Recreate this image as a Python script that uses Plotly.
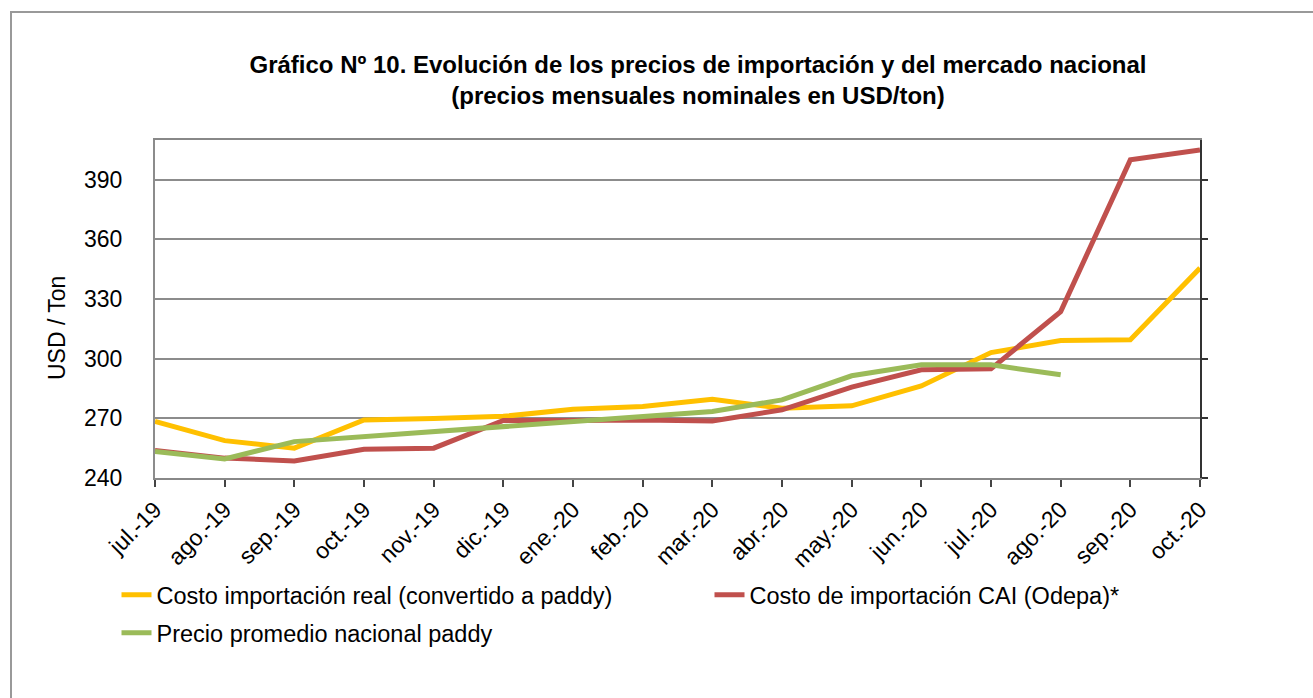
import plotly.graph_objects as go

months = ["jul.-19", "ago.-19", "sep.-19", "oct.-19", "nov.-19", "dic.-19",
          "ene.-20", "feb.-20", "mar.-20", "abr.-20", "may.-20", "jun.-20",
          "jul.-20", "ago.-20", "sep.-20", "oct.-20"]

costo_real = [268.5, 258.8, 255.0, 269.2, 269.9, 271.0, 274.6, 276.0, 279.6,
              275.1, 276.3, 286.3, 303.1, 309.1, 309.5, 345.6]
costo_cai = [253.8, 250.0, 248.6, 254.5, 255.0, 268.9, 268.9, 269.2, 268.7,
             274.3, 285.7, 294.4, 294.9, 323.7, 400.0, 405.0]
precio_nacional = [253.3, 249.6, 258.3, 260.8, 263.3, 265.9, 267.9, 270.4, 273.4,
                   279.3, 291.4, 296.9, 296.9, 291.9, None, None]

names = ["Costo importación real (convertido a paddy)",
         "Costo de importación CAI (Odepa)*",
         "Precio promedio nacional paddy"]
colors = ["#FFC000", "#C0504D", "#9BBB59"]
legend_ids = ["legend", "legend2", "legend3"]

x = list(range(len(months)))
FONT = "Liberation Sans, Arial, sans-serif"

fig = go.Figure()
for name, vals, col, lg in zip(names, [costo_real, costo_cai, precio_nacional], colors, legend_ids):
    fig.add_trace(go.Scatter(x=x, y=vals, name=name, mode="lines", legend=lg,
                             line=dict(color=col, width=5), connectgaps=False))
# helper trace for right-side tick axis
fig.add_trace(go.Scatter(x=x, y=costo_cai, yaxis="y2", mode="lines",
                         line=dict(width=0), showlegend=False, hoverinfo="skip"))

PW, PH = 1045, 338
def px_x(px):
    return (px - 155) / PW
def px_y(py):
    return (478 - py) / PH

leg_common = dict(orientation="v", xanchor="left", yanchor="middle",
                  font=dict(family=FONT, size=23.5, color="black"),
                  bgcolor="rgba(0,0,0,0)")

fig.update_layout(
    width=1313, height=698,
    paper_bgcolor="white", plot_bgcolor="white",
    margin=dict(l=155, r=113, t=140, b=220),
    font=dict(family=FONT, size=23, color="black"),
    title=dict(text="<b>Gráfico Nº 10. Evolución de los precios de importación y del mercado nacional<br>(precios mensuales nominales en USD/ton)</b>",
               x=698/1313, xanchor="center", y=1-73/698, yanchor="top",
               font=dict(family=FONT, size=24, color="black")),
    xaxis=dict(range=[0, 15], tickvals=x, ticktext=months, tickangle=-45,
               ticks="outside", ticklen=7, tickwidth=2, tickcolor="#444",
               showline=True, linecolor="#888", linewidth=2, mirror=True,
               showgrid=False, zeroline=False,
               tickfont=dict(family=FONT, size=23)),
    yaxis=dict(range=[240, 410], tick0=240, dtick=30, showgrid=True,
               gridcolor="#8c8c8c", gridwidth=2, showline=True,
               linecolor="#8c8c8c", linewidth=2, mirror=True, zeroline=False,
               ticks="outside", ticklen=26, tickcolor="rgba(0,0,0,0)",
               tickfont=dict(family=FONT, size=23)),
    yaxis2=dict(range=[240, 410], tick0=240, dtick=30, overlaying="y",
                side="right", anchor="x", showgrid=False, showline=True,
                linecolor="#333", linewidth=2, ticks="outside", ticklen=6,
                tickwidth=2, tickcolor="#333", showticklabels=False,
                zeroline=False),
    annotations=[dict(text="USD / Ton", textangle=-90, xref="paper", yref="paper",
                      x=px_x(57), y=px_y(328), xanchor="center", yanchor="middle",
                      showarrow=False, font=dict(family=FONT, size=23, color="black"))],
    showlegend=True,
    legend=dict(x=px_x(116.5), y=px_y(595), **leg_common),
    legend2=dict(x=px_x(709.5), y=px_y(595), **leg_common),
    legend3=dict(x=px_x(116.5), y=px_y(633), **leg_common),
    shapes=[dict(type="rect", xref="paper", yref="paper",
                 x0=px_x(11), x1=px_x(1325),
                 y0=px_y(710), y1=px_y(12),
                 line=dict(color="#999", width=2), layer="below")],
)

fig.write_html("out.html", config={"displayModeBar": False},
               post_script="document.body.style.margin='0';document.body.style.overflow='hidden';")
